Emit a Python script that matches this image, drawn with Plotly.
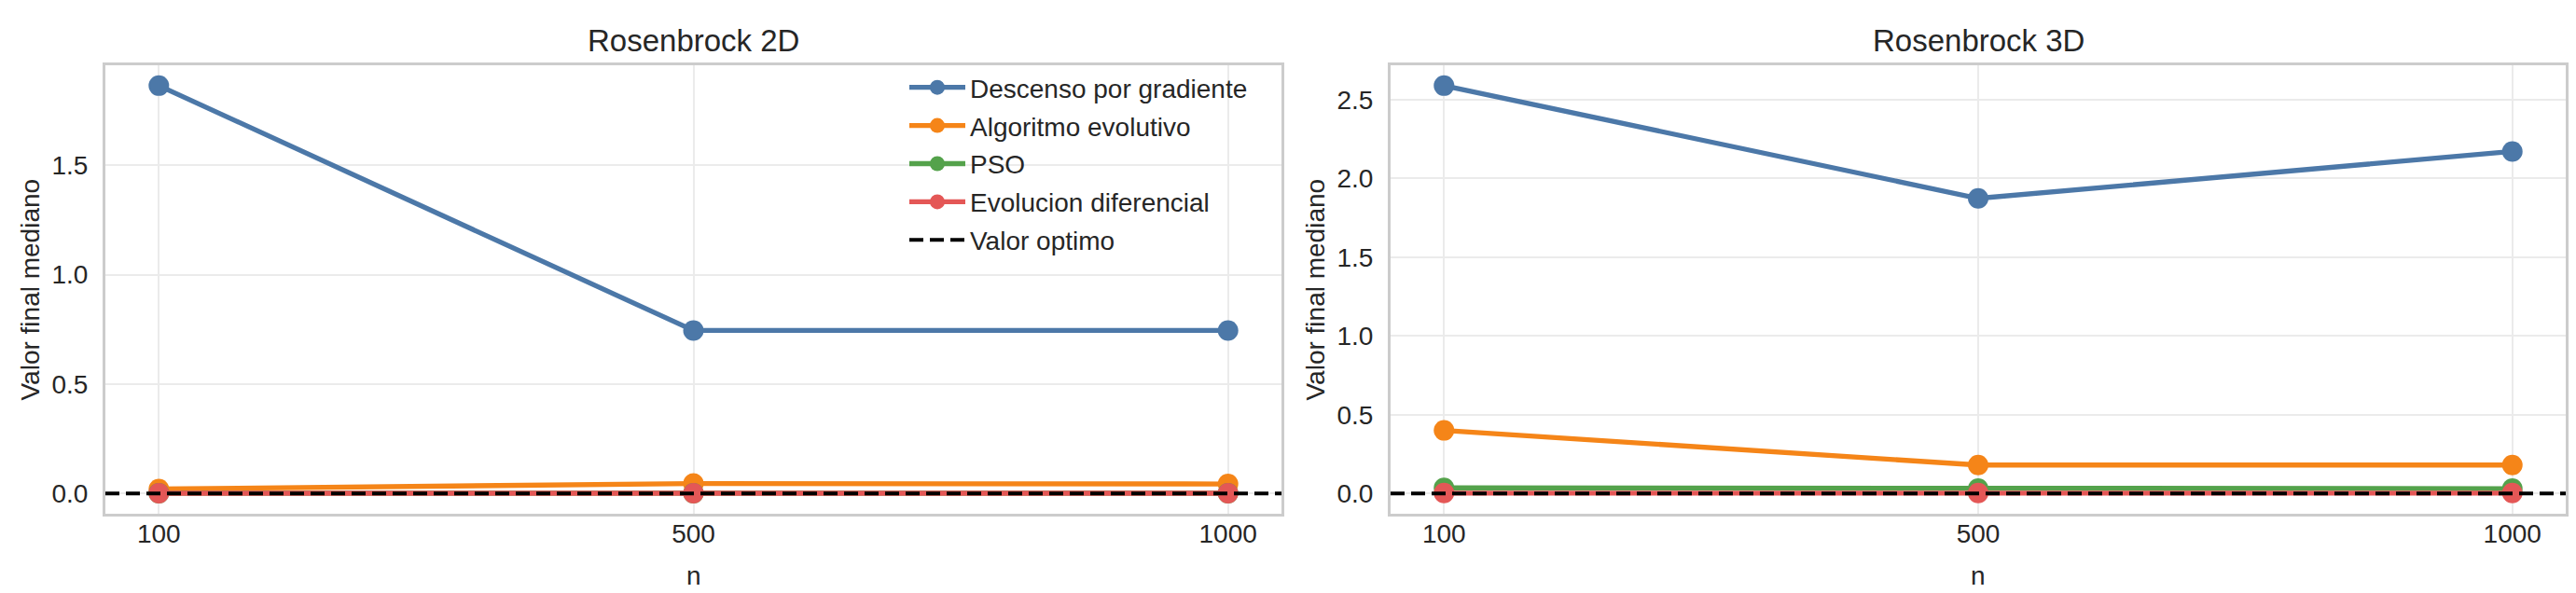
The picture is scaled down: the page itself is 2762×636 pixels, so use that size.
import plotly.graph_objects as go

# ---------------- data ----------------
n_labels = ["100", "500", "1000"]
n_pos = [0, 1, 2]

series_names = ["Descenso por gradiente", "Algoritmo evolutivo", "PSO", "Evolucion diferencial"]
series_colors = ["#4C78A8", "#F58518", "#54A24B", "#E45756"]

# Rosenbrock 2D (median final value)
r2_gd = [1.865, 0.745, 0.745]
r2_ea = [0.020, 0.045, 0.043]
r2_pso = [0.001, 0.001, 0.001]
r2_de = [0.0005, 0.0005, 0.0005]

# Rosenbrock 3D (median final value)
r3_gd = [2.590, 1.874, 2.172]
r3_ea = [0.400, 0.180, 0.180]
r3_pso = [0.035, 0.030, 0.030]
r3_de = [0.002, 0.002, 0.002]

optimo = 0.0

panel_titles = ["Rosenbrock 2D", "Rosenbrock 3D"]
x_title = "n"
y_title = "Valor final mediano"

# ---------------- figure ----------------
W, H = 2762, 636
FONT = "Arial, Liberation Sans, Helvetica, sans-serif"
TXT = "#262626"

fig = go.Figure()

panels = [
    dict(data=[r2_gd, r2_ea, r2_pso, r2_de], xa="x", ya="y", show=True),
    dict(data=[r3_gd, r3_ea, r3_pso, r3_de], xa="x2", ya="y2", show=False),
]

for p in panels:
    for name, color, vals in zip(series_names, series_colors, p["data"]):
        fig.add_trace(go.Scatter(
            x=n_pos, y=vals, name=name, mode="lines+markers",
            line=dict(color=color, width=5.3),
            marker=dict(color=color, size=22),
            xaxis=p["xa"], yaxis=p["ya"],
            showlegend=p["show"], legendgroup=name,
        ))
    # optimal-value reference line (axhline)
    fig.add_shape(type="line", xref=f"{p['xa']} domain", yref=p["ya"],
                  x0=0, x1=1, y0=optimo, y1=optimo, layer="above",
                  line=dict(color="black", width=4, dash="15px,7px"))

# legend entry for the optimal value
fig.add_trace(go.Scatter(x=[None], y=[None], mode="lines", name="Valor optimo",
                         line=dict(color="black", width=4, dash="15px,7px"),
                         xaxis="x", yaxis="y", showlegend=True, legendgroup="optimo"))


def yrange(groups):
    vals = [v for g in groups for v in g] + [optimo]
    lo, hi = min(vals), max(vals)
    m = 0.05 * (hi - lo)
    return [lo - m, hi + m]


dom_x1 = [105 / W, 1366 / W]
dom_x2 = [1483 / W, 2743 / W]
dom_y = [1 - 543 / H, 1 - 62 / H]

axis_common = dict(
    showgrid=True, gridcolor="#ebebeb", gridwidth=2,
    showline=True, mirror=True, linecolor="#cccccc", linewidth=3,
    zeroline=False, ticks="", tickfont=dict(family=FONT, size=28, color=TXT),
)

fig.update_layout(
    width=W, height=H,
    margin=dict(l=0, r=0, t=0, b=0),
    paper_bgcolor="white", plot_bgcolor="white",
    font=dict(family=FONT, color=TXT, size=28),
    xaxis=dict(domain=dom_x1, range=[-0.1, 2.1], tickvals=n_pos, ticktext=n_labels,
               anchor="y", ticklabelstandoff=-6, **axis_common),
    yaxis=dict(domain=dom_y, range=yrange(panels[0]["data"]), dtick=0.5, tickformat=".1f",
               anchor="x", ticklabelstandoff=10, **axis_common),
    xaxis2=dict(domain=dom_x2, range=[-0.1, 2.1], tickvals=n_pos, ticktext=n_labels,
                anchor="y2", ticklabelstandoff=-6, **axis_common),
    yaxis2=dict(domain=dom_y, range=yrange(panels[1]["data"]), dtick=0.5, tickformat=".1f",
                anchor="x2", ticklabelstandoff=10, **axis_common),
    legend=dict(x=962 / W, y=1 - 61 / H, xanchor="left", yanchor="top",
                bgcolor="rgba(0,0,0,0)", borderwidth=0, itemwidth=60,
                font=dict(family=FONT, size=28, color=TXT), tracegroupgap=1.5),
    showlegend=True,
)

ann = []
for dx, t in zip([dom_x1, dom_x2], panel_titles):
    cx = (dx[0] + dx[1]) / 2
    ann.append(dict(text=t, x=cx, y=1 - 56 / H, xref="paper", yref="paper",
                    xanchor="center", yanchor="bottom", showarrow=False,
                    font=dict(family=FONT, size=33, color=TXT)))
    ann.append(dict(text=x_title, x=cx, y=1 - 609 / H, xref="paper", yref="paper",
                    xanchor="center", yanchor="middle", showarrow=False,
                    font=dict(family=FONT, size=28, color=TXT)))
for xc in [24, 1402]:
    ann.append(dict(text=y_title, x=xc / W, y=(dom_y[0] + dom_y[1]) / 2, xref="paper", yref="paper",
                    xanchor="center", yanchor="middle", textangle=-90, showarrow=False,
                    font=dict(family=FONT, size=28, color=TXT)))
fig.update_layout(annotations=ann)

fig.write_html("out.html")
